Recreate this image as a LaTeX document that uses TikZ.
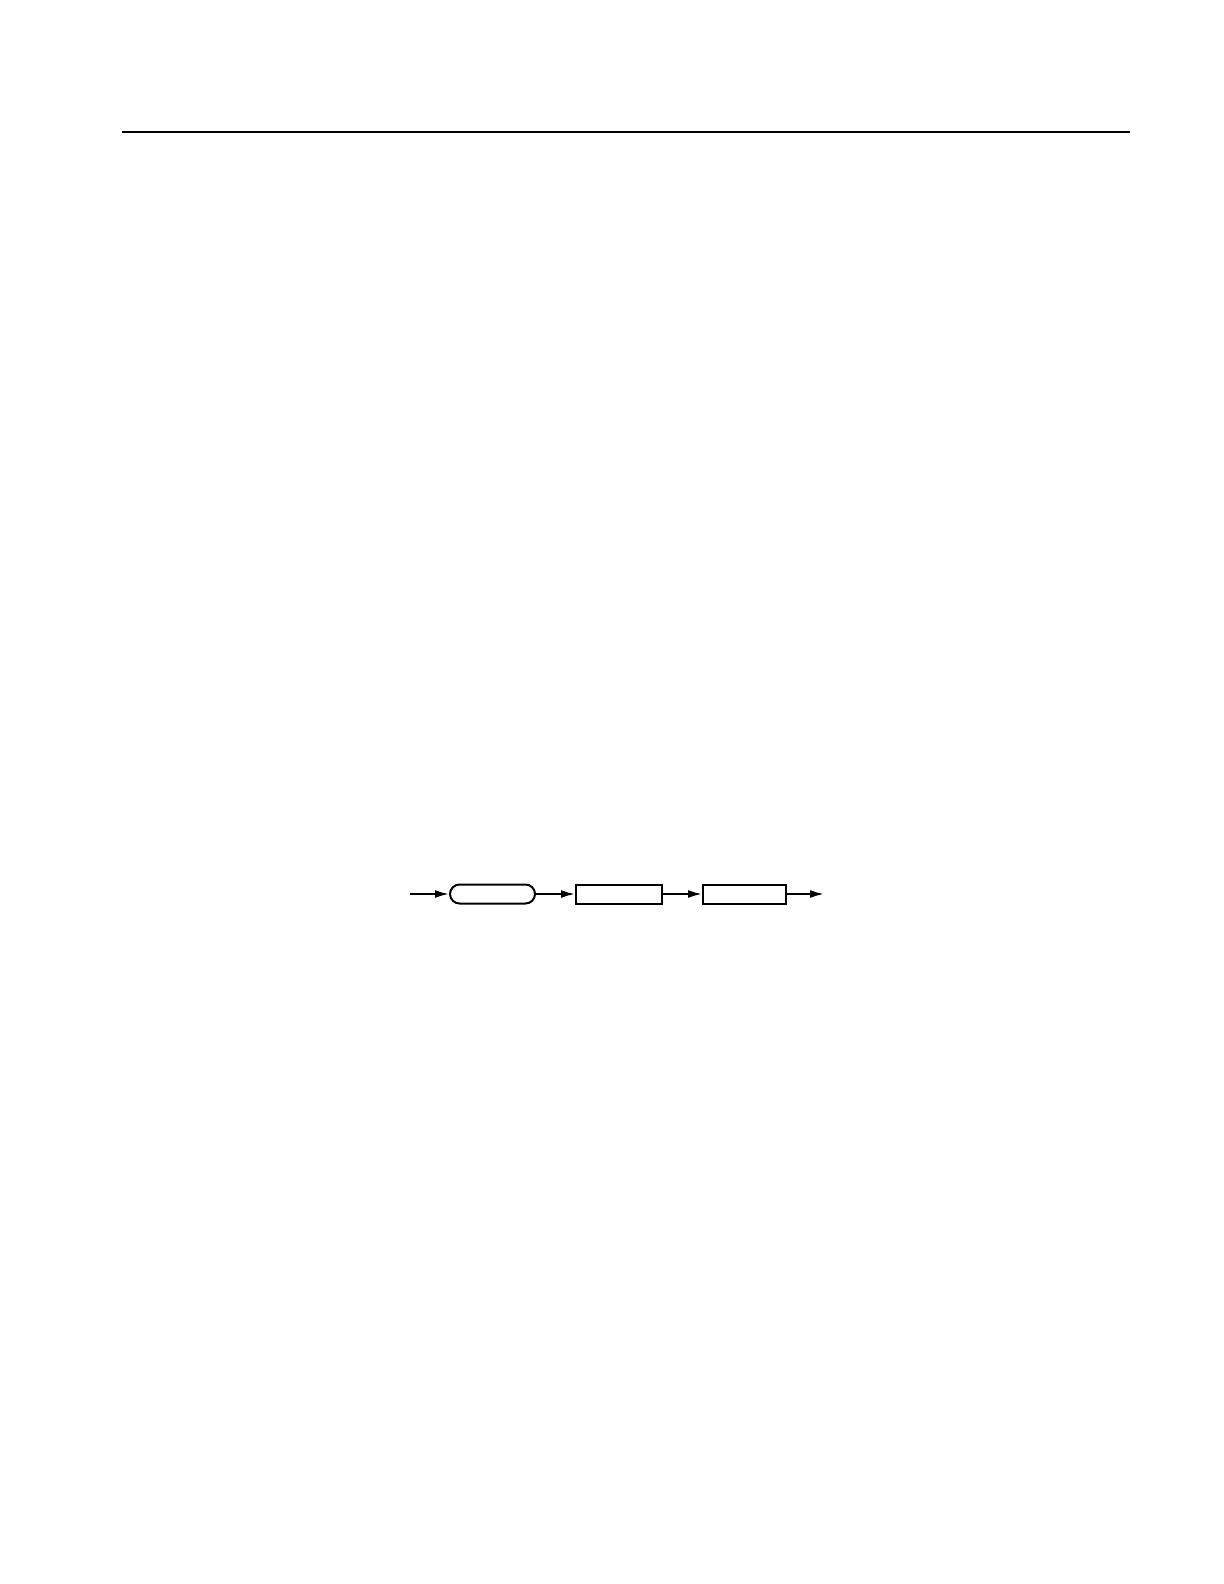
\documentclass[tikz,border=0pt]{standalone}
\usetikzlibrary{arrows.meta}
\begin{document}
\begin{tikzpicture}[x=0.5pt, y=-0.5pt,
        stage/.style={draw, line width=1pt, inner sep=0pt, minimum height=9.5pt},
        flow/.style={-{Latex[length=7pt, width=4pt]}, line width=1pt}]
        \useasboundingbox (0,0) rectangle (1224,1584);
        \draw [line width=0.7pt] (122,132) -- (1130,132);

        \coordinate (in) at (410,894);
        \node [stage, rounded corners=4.75pt, minimum width=42.5pt] (A) at (492.5,894) {};
        \node [stage, minimum width=43pt] (B) at (619,894) {};
        \node [stage, minimum width=41.5pt] (C) at (744.5,894) {};
        \coordinate (out) at (824,894);

        \draw [flow] (in) -- (A); \draw [flow] (A) -- (B);
        \draw [flow] (B) -- (C); \draw [flow] (C) -- (out);
    \end{tikzpicture}
\end{document}
